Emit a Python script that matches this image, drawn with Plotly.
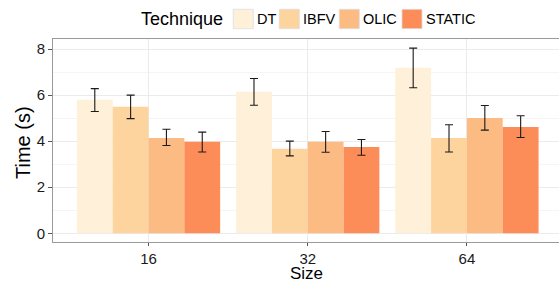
import plotly.graph_objects as go

sizes = ["16", "32", "64"]
techniques = ["DT", "IBFV", "OLIC", "STATIC"]
means = {
    "DT": [5.80, 6.14, 7.19],
    "IBFV": [5.49, 3.67, 4.14],
    "OLIC": [4.14, 3.97, 5.01],
    "STATIC": [3.97, 3.75, 4.62],
}
upper = {
    "DT": [6.28, 6.72, 8.04],
    "IBFV": [6.00, 4.00, 4.71],
    "OLIC": [4.52, 4.42, 5.55],
    "STATIC": [4.39, 4.07, 5.10],
}
lower = {
    "DT": [5.29, 5.56, 6.32],
    "IBFV": [4.98, 3.36, 3.53],
    "OLIC": [3.81, 3.52, 4.48],
    "STATIC": [3.53, 3.39, 4.16],
}
colors = {"DT": "#FEF0D9", "IBFV": "#FDD49E", "OLIC": "#FDBB84", "STATIC": "#FC8D59"}

FONT = "Liberation Sans, Arial, Helvetica, sans-serif"
W, H = 559, 283
ML, MR, MT, MB = 53, 0, 39, 41
PW, PH = W - ML - MR, H - MT - MB

fig = go.Figure()
for t in techniques:
    fig.add_trace(go.Bar(
        name=t, x=sizes, y=means[t],
        marker=dict(color=colors[t], line=dict(width=0)),
        error_y=dict(type="data", symmetric=False,
                     array=[u - m for u, m in zip(upper[t], means[t])],
                     arrayminus=[m - l for m, l in zip(means[t], lower[t])],
                     color="#1a1a1a", thickness=1.1, width=4),
        showlegend=False,
    ))

def px(x):
    return (x - ML) / PW

def py(y):
    return (H - MB - y) / PH

shapes = []
annotations = []
# manual legend
annotations.append(dict(text="Technique", x=px(225), y=py(19.5), xref="paper", yref="paper",
                        xanchor="right", yanchor="middle", showarrow=False,
                        font=dict(family=FONT, size=18, color="#000")))
box_left = {"DT": 233.3, "IBFV": 279.3, "OLIC": 339.3, "STATIC": 402.0}
for t in techniques:
    x0 = box_left[t]
    shapes.append(dict(type="rect", xref="paper", yref="paper",
                       x0=px(x0), x1=px(x0 + 20), y0=py(28.7), y1=py(9.3),
                       fillcolor=colors[t], line=dict(color="#DDDDDD", width=0.8)))
    annotations.append(dict(text=t, x=px(x0 + 22), y=py(19.5), xref="paper", yref="paper",
                            xanchor="left", yanchor="middle", showarrow=False,
                            font=dict(family=FONT, size=14.5, color="#000")))
# axis titles
annotations.append(dict(text="Size", x=px(306), y=py(273.5), xref="paper", yref="paper",
                        xanchor="center", yanchor="middle", showarrow=False,
                        font=dict(family=FONT, size=17, color="#000")))
annotations.append(dict(text="Time (s)", x=px(23), y=py(143), xref="paper", yref="paper",
                        xanchor="center", yanchor="middle", showarrow=False, textangle=-90,
                        font=dict(family=FONT, size=20, color="#000")))

fig.update_layout(
    width=W, height=H,
    margin=dict(l=ML, r=MR, t=MT, b=MB, pad=0, autoexpand=False),
    paper_bgcolor="white", plot_bgcolor="white",
    barmode="group", bargap=0.1, bargroupgap=0,
    font=dict(family=FONT, color="#000"),
    shapes=shapes, annotations=annotations,
    xaxis=dict(
        type="category", categoryorder="array", categoryarray=sizes,
        range=[-0.6, -0.6 + PW / 159.2],
        showgrid=True, gridcolor="#EBEBEB", gridwidth=1,
        showline=True, linecolor="#9A9A9A", linewidth=1, mirror=True,
        ticks="outside", ticklen=3, tickcolor="#555", tickwidth=1,
        tickfont=dict(family=FONT, size=15, color="#1a1a1a"),
        automargin=False, zeroline=False,
    ),
    yaxis=dict(
        range=[-0.378, 8.435],
        tickvals=[0, 2, 4, 6, 8],
        showgrid=True, gridcolor="#EBEBEB", gridwidth=1,
        minor=dict(tickvals=[1, 3, 5, 7], showgrid=True, gridcolor="#F5F5F5", ticks=""),
        showline=True, linecolor="#9A9A9A", linewidth=1, mirror=False,
        ticks="outside", ticklen=4, tickcolor="#555", tickwidth=1,
        tickfont=dict(family=FONT, size=15, color="#1a1a1a"),
        automargin=False, zeroline=False,
    ),
)

fig.write_html(
    "out.html",
    config={"displayModeBar": False},
    post_script="document.body.style.margin='0';document.body.style.overflow='hidden';",
)
